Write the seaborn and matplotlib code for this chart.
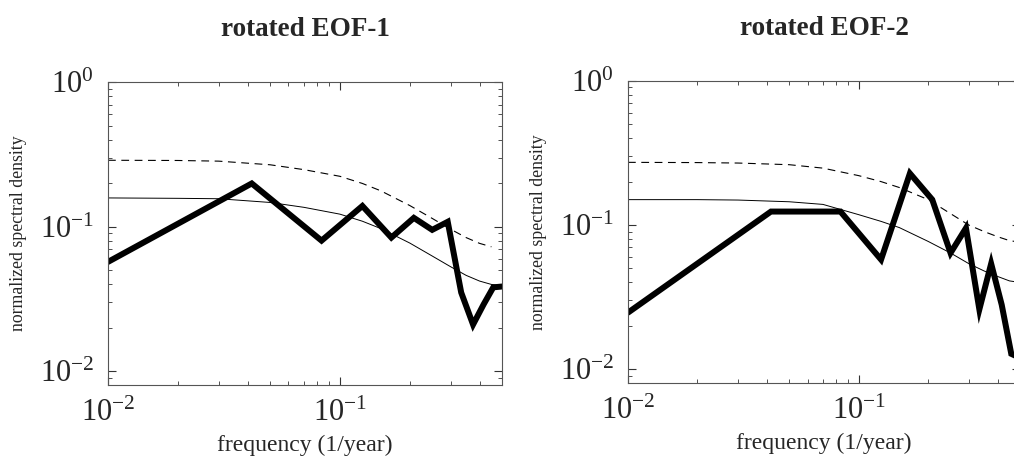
import numpy as np
import matplotlib
matplotlib.use("Agg")
import matplotlib.pyplot as plt
import matplotlib.ticker as mticker
import seaborn as sns

sns.set_theme(style="ticks")
plt.rcParams["font.family"] = ["Liberation Serif", "DejaVu Serif"]
plt.rcParams["mathtext.fontset"] = "custom"
plt.rcParams["mathtext.rm"] = "Liberation Serif"
plt.rcParams["mathtext.it"] = "Liberation Serif:italic"
plt.rcParams["mathtext.bf"] = "Liberation Serif:bold"
plt.rcParams["axes.unicode_minus"] = False

# ── data ─────────────────────────────────────────────────────
freq_spec = [0.01, 1/24, 2/24, 3/24, 4/24, 5/24, 6/24, 7/24, 8/24, 9/24, 10/24, 11/24, 12/24]
eof1_spec = [0.057, 0.199, 0.080, 0.139, 0.084, 0.115, 0.095, 0.108, 0.035, 0.021, 0.029, 0.038, 0.0385]
eof2_spec = [0.0247, 0.124, 0.124, 0.0576, 0.228, 0.150, 0.064, 0.0953, 0.026, 0.054, 0.028, 0.0128, 0.012]

freq_ref = [0.01, 0.02, 0.03, 0.05, 0.07, 0.1, 0.125, 0.15, 0.2, 0.25, 0.3, 0.35, 0.4, 0.45, 0.5]
eof1_red = [0.158, 0.157, 0.156, 0.147, 0.136, 0.122, 0.109, 0.097, 0.077, 0.0626, 0.0528, 0.046, 0.042, 0.0398, 0.039]
eof1_sig = [0.288, 0.287, 0.284, 0.268, 0.248, 0.223, 0.199, 0.177, 0.140, 0.114, 0.096, 0.084, 0.0766, 0.0725]
eof2_red = [0.150, 0.150, 0.149, 0.145, 0.139, 0.118, 0.106, 0.096, 0.077, 0.064, 0.054, 0.048, 0.044, 0.041, 0.040]
eof2_sig = [0.272, 0.271, 0.269, 0.262, 0.248, 0.220, 0.200, 0.182, 0.150, 0.120, 0.100, 0.090, 0.083, 0.078, 0.076]

titles = ["rotated EOF-1", "rotated EOF-2"]

fig = plt.figure(figsize=(10.14, 4.59), dpi=100)
ax1 = fig.add_axes([0.1065, 0.161, 0.3886, 0.660])
ax2 = fig.add_axes([0.6193, 0.165, 0.3866, 0.659])

panels = [
    (ax1, eof1_spec, eof1_red, eof1_sig),
    (ax2, eof2_spec, eof2_red, eof2_sig),
]

for i, (ax, spec, red, sig) in enumerate(panels):
    # 95% level (dashed), red-noise background (thin), spectrum (thick)
    sns.lineplot(x=freq_ref[:len(sig)], y=sig, ax=ax, color="black",
                 linewidth=0.8, estimator=None)
    ax.lines[-1].set_dashes([7, 5])
    sns.lineplot(x=freq_ref, y=red, ax=ax, color="black", linewidth=0.7, estimator=None)
    sns.lineplot(x=freq_spec, y=spec, ax=ax, color="black", linewidth=4.3,
                 estimator=None, solid_joinstyle="miter")
    ax.set_xscale("log")
    ax.set_yscale("log")
    ax.set_xlim(0.01, 0.5)
    ax.set_ylim(0.008, 1.0)
    ax.set_title(titles[i], fontsize=19.5, fontweight="bold", pad=33)
    ax.set_xlabel("frequency (1/year)", fontsize=17, labelpad=5)
    ax.set_ylabel("normalized spectral density", fontsize=12.8, labelpad=9)
    ax.tick_params(which="both", direction="in", top=True, right=True, color="#333333")
    ax.tick_params(which="major", length=6, width=0.8, labelsize=22, pad=10)
    ax.tick_params(which="minor", length=3, width=0.6)
    ax.xaxis.set_major_locator(mticker.LogLocator(base=10, numticks=5))
    ax.yaxis.set_major_locator(mticker.LogLocator(base=10, numticks=5))
    for s in ax.spines.values():
        s.set_linewidth(0.8)
        s.set_color("#555555")

fig.savefig("out.png", dpi=100)
